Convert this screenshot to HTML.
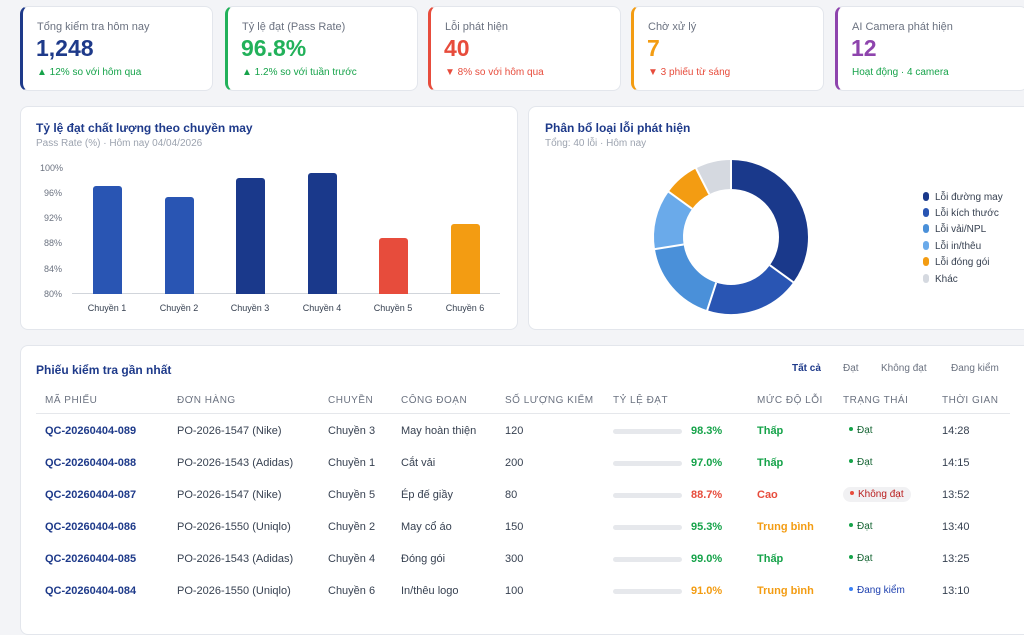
<!DOCTYPE html>
<html><head><meta charset="utf-8"><style>
*{box-sizing:border-box;margin:0;padding:0}
body{width:1024px;height:622px;overflow:hidden;background:#f3f4f7;font-family:"Liberation Sans",sans-serif;position:relative}
.card{position:absolute;background:#fff;border:1px solid #e3e6ec;border-radius:8px}
.kpi{top:6px;height:85px;width:193px;border-left:3px solid}
.kpi .l{position:absolute;left:14px;top:14px;font-size:11px;color:#6b7280}
.kpi .v{position:absolute;left:13px;top:28px;font-size:23px;font-weight:bold}
.kpi .s{position:absolute;left:14px;top:60px;font-size:10px}
.t{position:absolute;font-size:12px;font-weight:bold;color:#1e3a8a}
.st{position:absolute;font-size:10px;color:#9ca3af}
.ax{position:absolute;font-size:9px;color:#6b7280}
.bar{position:absolute;width:29px;border-radius:3px 3px 0 0}
.xl{position:absolute;top:303px;font-size:9px;color:#374151;width:60px;text-align:center}
.lg{position:absolute;left:923px;font-size:10px;color:#374151}
.lg i{display:inline-block;width:6px;height:9px;border-radius:3px;margin-right:6px;vertical-align:-1px}
.row{position:absolute;left:0;width:1024px;font-size:11px;color:#374151}
.row span{position:absolute;white-space:nowrap}
.h span{font-size:10px;color:#6b7280;letter-spacing:.5px}
.pb{display:block;width:69px;height:5px;background:#e6e8ec;border-radius:3px;top:4px}
.dot{display:inline-block;width:4px;height:4px;border-radius:2px;margin-right:4px;vertical-align:2px}
</style></head><body>
<div class="card kpi" style="left:20px;border-left-color:#1e3a8a"><div class="l">Tổng kiểm tra hôm nay</div><div class="v" style="color:#1e3a8a">1,248</div><div class="s" style="color:#16a34a">▲ 12% so với hôm qua</div></div>
<div class="card kpi" style="left:225px;border-left-color:#22b15a"><div class="l">Tỷ lệ đạt (Pass Rate)</div><div class="v" style="color:#22b15a">96.8%</div><div class="s" style="color:#16a34a">▲ 1.2% so với tuần trước</div></div>
<div class="card kpi" style="left:428px;border-left-color:#e74c3c"><div class="l">Lỗi phát hiện</div><div class="v" style="color:#e74c3c">40</div><div class="s" style="color:#e74c3c">▼ 8% so với hôm qua</div></div>
<div class="card kpi" style="left:631px;border-left-color:#f39c12"><div class="l">Chờ xử lý</div><div class="v" style="color:#f39c12">7</div><div class="s" style="color:#e74c3c">▼ 3 phiếu từ sáng</div></div>
<div class="card kpi" style="left:835px;border-left-color:#8e44ad"><div class="l">AI Camera phát hiện</div><div class="v" style="color:#8e44ad">12</div><div class="s" style="color:#16a34a">Hoạt động · 4 camera</div></div>

<div class="card" style="left:20px;top:106px;width:498px;height:224px"></div>
<div class="t" style="left:36px;top:121px">Tỷ lệ đạt chất lượng theo chuyền may</div>
<div class="st" style="left:36px;top:138px">Pass Rate (%) · Hôm nay 04/04/2026</div>
<div class="ax" style="left:40px;top:163px">100%</div>
<div class="ax" style="left:44px;top:188px">96%</div>
<div class="ax" style="left:44px;top:213px">92%</div>
<div class="ax" style="left:44px;top:238px">88%</div>
<div class="ax" style="left:44px;top:264px">84%</div>
<div class="ax" style="left:44px;top:289px">80%</div>
<div style="position:absolute;left:72px;top:293px;width:428px;height:1px;background:#d1d5db"></div>
<div class="bar" style="left:93px;top:186px;height:108px;background:#2955b3"></div>
<div class="bar" style="left:165px;top:197px;height:97px;background:#2955b3"></div>
<div class="bar" style="left:236px;top:178px;height:116px;background:#1a398b"></div>
<div class="bar" style="left:308px;top:173px;height:121px;background:#1a398b"></div>
<div class="bar" style="left:379px;top:238px;height:56px;background:#e74c3c"></div>
<div class="bar" style="left:451px;top:224px;height:70px;background:#f39c12"></div>
<div class="xl" style="left:77px">Chuyền 1</div>
<div class="xl" style="left:149px">Chuyền 2</div>
<div class="xl" style="left:220px">Chuyền 3</div>
<div class="xl" style="left:292px">Chuyền 4</div>
<div class="xl" style="left:363px">Chuyền 5</div>
<div class="xl" style="left:435px">Chuyền 6</div>

<div class="card" style="left:528px;top:106px;width:510px;height:224px"></div>
<div class="t" style="left:545px;top:121px">Phân bổ loại lỗi phát hiện</div>
<div class="st" style="left:545px;top:138px">Tổng: 40 lỗi · Hôm nay</div>
<svg style="position:absolute;left:651px;top:157px" width="160" height="160" viewBox="-80 -80 160 160">
<g fill="none" stroke-width="29" stroke="#fff">
<circle r="62.5" stroke="#1a398b" stroke-dasharray="137.4 255.3" transform="rotate(-90)"/>
<circle r="62.5" stroke="#2955b3" stroke-dasharray="78.5 314.2" transform="rotate(36)"/>
<circle r="62.5" stroke="#4a90d9" stroke-dasharray="68.7 324" transform="rotate(108)"/>
<circle r="62.5" stroke="#6aaaea" stroke-dasharray="49.1 343.6" transform="rotate(171)"/>
<circle r="62.5" stroke="#f39c12" stroke-dasharray="29.5 363.2" transform="rotate(216)"/>
<circle r="62.5" stroke="#d5d9e0" stroke-dasharray="29.5 363.2" transform="rotate(243)"/>
</g>
<g stroke="#fff" stroke-width="2">
<line x1="0" y1="-48" x2="0" y2="-78" transform="rotate(0)"/><line x1="0" y1="-48" x2="0" y2="-78" transform="rotate(126)"/><line x1="0" y1="-48" x2="0" y2="-78" transform="rotate(198)"/><line x1="0" y1="-48" x2="0" y2="-78" transform="rotate(261)"/><line x1="0" y1="-48" x2="0" y2="-78" transform="rotate(306)"/><line x1="0" y1="-48" x2="0" y2="-78" transform="rotate(333)"/>
</g></svg>
<div class="lg" style="top:192px"><i style="background:#1a398b"></i>Lỗi đường may</div>
<div class="lg" style="top:208px"><i style="background:#2955b3"></i>Lỗi kích thước</div>
<div class="lg" style="top:224px"><i style="background:#4a90d9"></i>Lỗi vải/NPL</div>
<div class="lg" style="top:241px"><i style="background:#6aaaea"></i>Lỗi in/thêu</div>
<div class="lg" style="top:257px"><i style="background:#f39c12"></i>Lỗi đóng gói</div>
<div class="lg" style="top:274px"><i style="background:#d5d9e0"></i>Khác</div>

<div class="card" style="left:20px;top:345px;width:1018px;height:290px"></div>
<div class="t" style="left:36px;top:363px">Phiếu kiểm tra gần nhất</div>
<div class="row" style="top:363px;font-size:10px"><span style="left:792px;color:#1e3a8a;font-weight:bold">Tất cả</span><span style="left:843px;color:#6b7280">Đạt</span><span style="left:881px;color:#6b7280">Không đạt</span><span style="left:951px;color:#6b7280">Đang kiểm</span></div>
<div class="row h" style="top:395px"><span style="left:45px">MÃ PHIẾU</span><span style="left:177px">ĐƠN HÀNG</span><span style="left:328px">CHUYỀN</span><span style="left:401px">CÔNG ĐOẠN</span><span style="left:505px">SỐ LƯỢNG KIỂM</span><span style="left:613px">TỶ LỆ ĐẠT</span><span style="left:757px">MỨC ĐỘ LỖI</span><span style="left:843px">TRẠNG THÁI</span><span style="left:942px">THỜI GIAN</span></div>
<div style="position:absolute;left:36px;top:413px;width:974px;height:1px;background:#e5e7eb"></div>

<div class="row" style="top:425px"><span style="left:45px;color:#1e3a8a;font-weight:bold">QC-20260404-089</span><span style="left:177px">PO-2026-1547 (Nike)</span><span style="left:328px">Chuyền 3</span><span style="left:401px">May hoàn thiện</span><span style="left:505px">120</span><span class="pb" style="left:613px"></span><span style="left:691px;color:#16a34a;font-weight:bold">98.3%</span><span style="left:757px;color:#16a34a;font-weight:bold">Thấp</span><span style="left:849px;color:#166534;font-size:10px"><i class="dot" style="background:#16a34a"></i>Đạt</span><span style="left:942px">14:28</span></div>
<div class="row" style="top:457px"><span style="left:45px;color:#1e3a8a;font-weight:bold">QC-20260404-088</span><span style="left:177px">PO-2026-1543 (Adidas)</span><span style="left:328px">Chuyền 1</span><span style="left:401px">Cắt vải</span><span style="left:505px">200</span><span class="pb" style="left:613px"></span><span style="left:691px;color:#16a34a;font-weight:bold">97.0%</span><span style="left:757px;color:#16a34a;font-weight:bold">Thấp</span><span style="left:849px;color:#166534;font-size:10px"><i class="dot" style="background:#16a34a"></i>Đạt</span><span style="left:942px">14:15</span></div>
<div class="row" style="top:489px"><span style="left:45px;color:#1e3a8a;font-weight:bold">QC-20260404-087</span><span style="left:177px">PO-2026-1547 (Nike)</span><span style="left:328px">Chuyền 5</span><span style="left:401px">Ép đế giầy</span><span style="left:505px">80</span><span class="pb" style="left:613px"></span><span style="left:691px;color:#e74c3c;font-weight:bold">88.7%</span><span style="left:757px;color:#e74c3c;font-weight:bold">Cao</span><span style="left:843px;top:-2px;color:#b91c1c;font-size:10px;background:#f1f1f3;border-radius:8px;padding:2px 7px"><i class="dot" style="background:#e74c3c"></i>Không đạt</span><span style="left:942px">13:52</span></div>
<div class="row" style="top:521px"><span style="left:45px;color:#1e3a8a;font-weight:bold">QC-20260404-086</span><span style="left:177px">PO-2026-1550 (Uniqlo)</span><span style="left:328px">Chuyền 2</span><span style="left:401px">May cổ áo</span><span style="left:505px">150</span><span class="pb" style="left:613px"></span><span style="left:691px;color:#16a34a;font-weight:bold">95.3%</span><span style="left:757px;color:#f39c12;font-weight:bold">Trung bình</span><span style="left:849px;color:#166534;font-size:10px"><i class="dot" style="background:#16a34a"></i>Đạt</span><span style="left:942px">13:40</span></div>
<div class="row" style="top:553px"><span style="left:45px;color:#1e3a8a;font-weight:bold">QC-20260404-085</span><span style="left:177px">PO-2026-1543 (Adidas)</span><span style="left:328px">Chuyền 4</span><span style="left:401px">Đóng gói</span><span style="left:505px">300</span><span class="pb" style="left:613px"></span><span style="left:691px;color:#16a34a;font-weight:bold">99.0%</span><span style="left:757px;color:#16a34a;font-weight:bold">Thấp</span><span style="left:849px;color:#166534;font-size:10px"><i class="dot" style="background:#16a34a"></i>Đạt</span><span style="left:942px">13:25</span></div>
<div class="row" style="top:585px"><span style="left:45px;color:#1e3a8a;font-weight:bold">QC-20260404-084</span><span style="left:177px">PO-2026-1550 (Uniqlo)</span><span style="left:328px">Chuyền 6</span><span style="left:401px">In/thêu logo</span><span style="left:505px">100</span><span class="pb" style="left:613px"></span><span style="left:691px;color:#f39c12;font-weight:bold">91.0%</span><span style="left:757px;color:#f39c12;font-weight:bold">Trung bình</span><span style="left:849px;color:#1e40af;font-size:10px"><i class="dot" style="background:#3b82f6"></i>Đang kiểm</span><span style="left:942px">13:10</span></div>
</body></html>
